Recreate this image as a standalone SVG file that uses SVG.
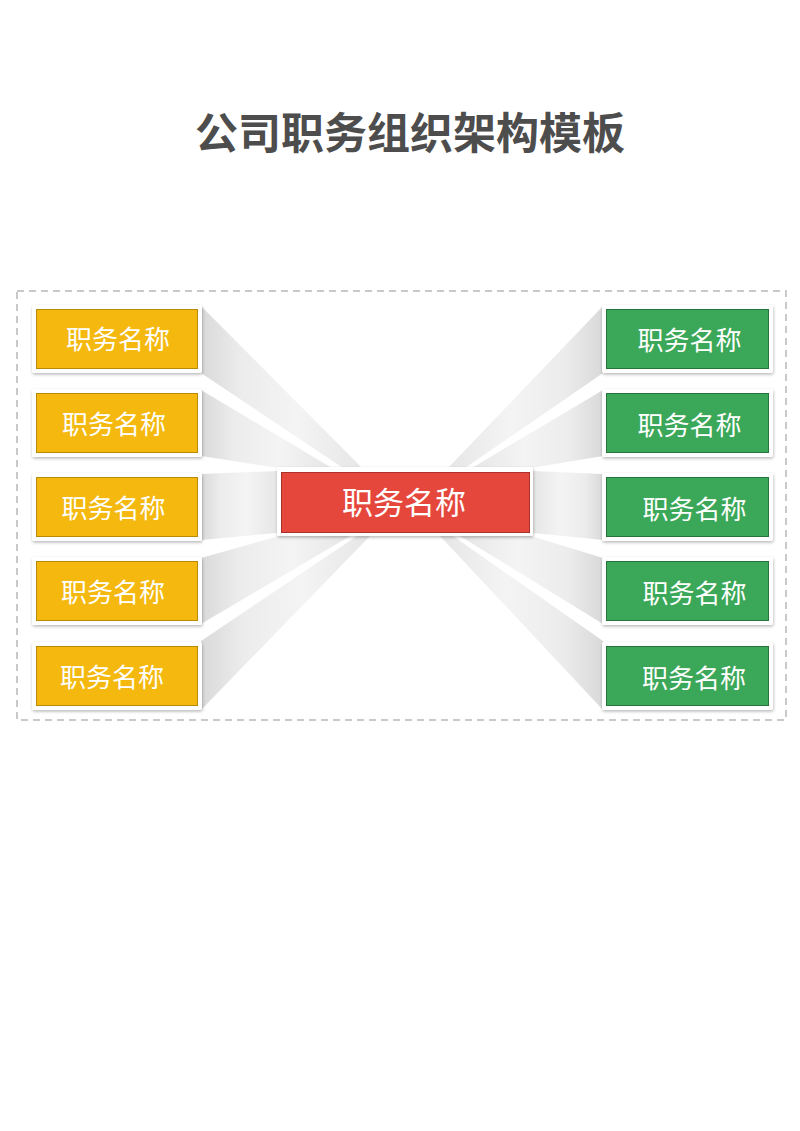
<svg xmlns="http://www.w3.org/2000/svg" width="800" height="1131" viewBox="0 0 800 1131">
  <style>
    .title { font-family: "Noto Sans CJK SC", "Liberation Sans", sans-serif; font-size: 43px; font-weight: 700; fill: #4d4d4d; }
    .lbl { font-family: "Noto Sans CJK SC", "Liberation Sans", sans-serif; font-size: 26px; font-weight: 400; fill: #ffffff; text-anchor: middle; }
    .lblc { font-family: "Noto Sans CJK SC", "Liberation Sans", sans-serif; font-size: 31px; font-weight: 400; fill: #ffffff; text-anchor: middle; }
    .frame { fill: #ffffff; filter: url(#sh); }
    .y { fill: #F4B80E; stroke: #B88A08; stroke-width: 1; }
    .g { fill: #3BA759; stroke: #27733C; stroke-width: 1; }
    .r { fill: #E5473D; stroke: #A8322B; stroke-width: 1; }
    .beamL { fill: url(#gl); }
    .beamR { fill: url(#gr); }
  </style>
  <defs>
    <filter id="sh" x="-10%" y="-20%" width="120%" height="150%">
      <feDropShadow dx="0.5" dy="1.5" stdDeviation="1.5" flood-color="#000000" flood-opacity="0.28"/>
    </filter>
    <linearGradient id="gl" x1="0" y1="0" x2="1" y2="0">
      <stop offset="0" stop-color="#d9d9d9"/>
      <stop offset="0.25" stop-color="#ececec"/>
      <stop offset="0.6" stop-color="#f4f4f4"/>
      <stop offset="1" stop-color="#e6e6e6"/>
    </linearGradient>
    <linearGradient id="gr" x1="1" y1="0" x2="0" y2="0">
      <stop offset="0" stop-color="#d9d9d9"/>
      <stop offset="0.25" stop-color="#ececec"/>
      <stop offset="0.6" stop-color="#f4f4f4"/>
      <stop offset="1" stop-color="#e6e6e6"/>
    </linearGradient>
  </defs>

  <rect width="800" height="1131" fill="#ffffff"/>

  <text class="title" x="410" y="149" text-anchor="middle">公司职务组织架构模板</text>

  <rect x="17" y="291" width="769" height="429" fill="none" stroke="#b8b8b8" stroke-width="1.5" stroke-dasharray="7 5"/>

  <g id="connectors">
    <polygon class="beamL" points="201,306 362,468 343,468 201,373"/>
    <polygon class="beamL" points="201,390 332,468 279,468 201,456"/>
    <polygon class="beamL" points="201,474 277,471 277,533 201,540"/>
    <polygon class="beamL" points="201,558 279,536 350,536 201,624"/>
    <polygon class="beamL" points="201,641 357,536 370,536 201,710"/>
    <polygon class="beamR" points="603,306 448,468 465,468 603,373"/>
    <polygon class="beamR" points="603,390 472,468 531,468 603,456"/>
    <polygon class="beamR" points="603,474 533,471 533,533 603,540"/>
    <polygon class="beamR" points="603,558 531,536 460,536 603,624"/>
    <polygon class="beamR" points="603,641 453,536 440,536 603,710"/>
  </g>

  <g id="center">
    <rect class="frame" x="277" y="467" width="256" height="69" rx="2"/>
    <rect class="r" x="281.5" y="472.5" width="248" height="60"/>
    <text class="lblc" x="404" y="514">职务名称</text>
  </g>

  <g id="left1">
    <rect class="frame" x="32" y="305" width="170" height="68" rx="2"/>
    <rect class="y" x="36.5" y="309.5" width="161" height="59"/>
    <text class="lbl" x="118" y="349">职务名称</text>
  </g>
  <g id="left2">
    <rect class="frame" x="32" y="389" width="170" height="68" rx="2"/>
    <rect class="y" x="36.5" y="393.5" width="161" height="59"/>
    <text class="lbl" x="114" y="434">职务名称</text>
  </g>
  <g id="left3">
    <rect class="frame" x="32" y="473" width="170" height="68" rx="2"/>
    <rect class="y" x="36.5" y="477.5" width="161" height="59"/>
    <text class="lbl" x="113.5" y="518">职务名称</text>
  </g>
  <g id="left4">
    <rect class="frame" x="32" y="557" width="170" height="68" rx="2"/>
    <rect class="y" x="36.5" y="561.5" width="161" height="59"/>
    <text class="lbl" x="113" y="602">职务名称</text>
  </g>
  <g id="left5">
    <rect class="frame" x="32" y="642" width="170" height="68" rx="2"/>
    <rect class="y" x="36.5" y="646.5" width="161" height="59"/>
    <text class="lbl" x="112" y="687">职务名称</text>
  </g>

  <g id="right1">
    <rect class="frame" x="602" y="305" width="171" height="68" rx="2"/>
    <rect class="g" x="606.5" y="309.5" width="162" height="59"/>
    <text class="lbl" x="689.5" y="350">职务名称</text>
  </g>
  <g id="right2">
    <rect class="frame" x="602" y="389" width="171" height="68" rx="2"/>
    <rect class="g" x="606.5" y="393.5" width="162" height="59"/>
    <text class="lbl" x="689.5" y="435">职务名称</text>
  </g>
  <g id="right3">
    <rect class="frame" x="602" y="473" width="171" height="68" rx="2"/>
    <rect class="g" x="606.5" y="477.5" width="162" height="59"/>
    <text class="lbl" x="694.5" y="519">职务名称</text>
  </g>
  <g id="right4">
    <rect class="frame" x="602" y="557" width="171" height="68" rx="2"/>
    <rect class="g" x="606.5" y="561.5" width="162" height="59"/>
    <text class="lbl" x="694.5" y="603">职务名称</text>
  </g>
  <g id="right5">
    <rect class="frame" x="602" y="642" width="171" height="68" rx="2"/>
    <rect class="g" x="606.5" y="646.5" width="162" height="59"/>
    <text class="lbl" x="694" y="688">职务名称</text>
  </g>
</svg>
